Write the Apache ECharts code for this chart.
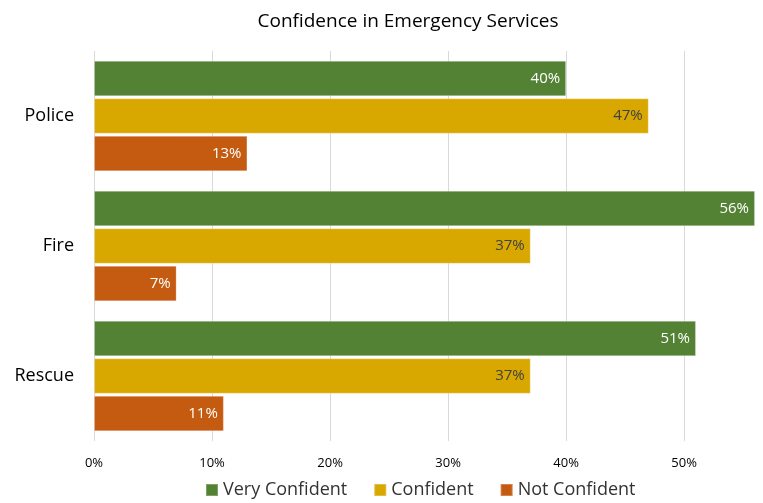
<!DOCTYPE html>
<html><head><meta charset="utf-8">
<script src="https://cdn.jsdelivr.net/npm/echarts@6/dist/echarts.min.js"></script>
<style>html,body{margin:0;padding:0;background:#fff}#c{width:763px;height:503px}</style>
</head><body><div id="c"></div>
<script>
const categories = ['Police', 'Fire', 'Rescue'];
const veryConfident = [40, 56, 51];
const confident = [47, 37, 37];
const notConfident = [13, 7, 11];
const seriesNames = ['Very Confident', 'Confident', 'Not Confident'];
const FONT = 'Open Sans';
const chart = echarts.init(document.getElementById('c'));
function mk(name, data, color, labelColor) {
  return {
    name: name, type: 'bar', data: data,
    barGap: '6%', barCategoryGap: '15%',
    itemStyle: { color: color, borderColor: 'rgba(255,255,255,0.25)', borderWidth: 1 },
    label: { show: true, position: 'insideRight', distance: 6, formatter: '{c}%',
      color: labelColor, fontFamily: FONT, fontSize: 15 }
  };
}
chart.setOption({
  animation: false,
  title: { text: 'Confidence in Emergency Services', left: 403, top: 7, textAlign: 'center',
    textStyle: { fontFamily: FONT, fontSize: 19, fontWeight: 'normal', color: '#000' } },
  grid: { left: 94, right: 8, top: 51, bottom: 62, containLabel: false },
  legend: { bottom: -1, left: 200, itemWidth: 12, itemHeight: 12, itemGap: 26,
    icon: 'rect', textStyle: { fontFamily: FONT, fontSize: 18, color: '#333' },
    data: seriesNames },
  xAxis: { type: 'value', min: 0, max: 56, interval: 10,
    axisLabel: { formatter: '{value}%', fontFamily: FONT, fontSize: 13, color: '#000', showMaxLabel: false, margin: 16 },
    splitLine: { showMaxLine: false, lineStyle: { color: '#d9d9d9' } }, axisLine: { show: false }, axisTick: { show: false } },
  yAxis: { type: 'category', data: categories, inverse: true,
    axisLabel: { fontFamily: FONT, fontSize: 18, color: '#000', margin: 20 },
    axisLine: { show: false }, axisTick: { show: false } },
  series: [
    mk(seriesNames[0], veryConfident, '#548235', '#fff'),
    mk(seriesNames[1], confident, '#D9A800', '#404040'),
    mk(seriesNames[2], notConfident, '#C55A11', '#fff')
  ]
});
</script></body></html>
